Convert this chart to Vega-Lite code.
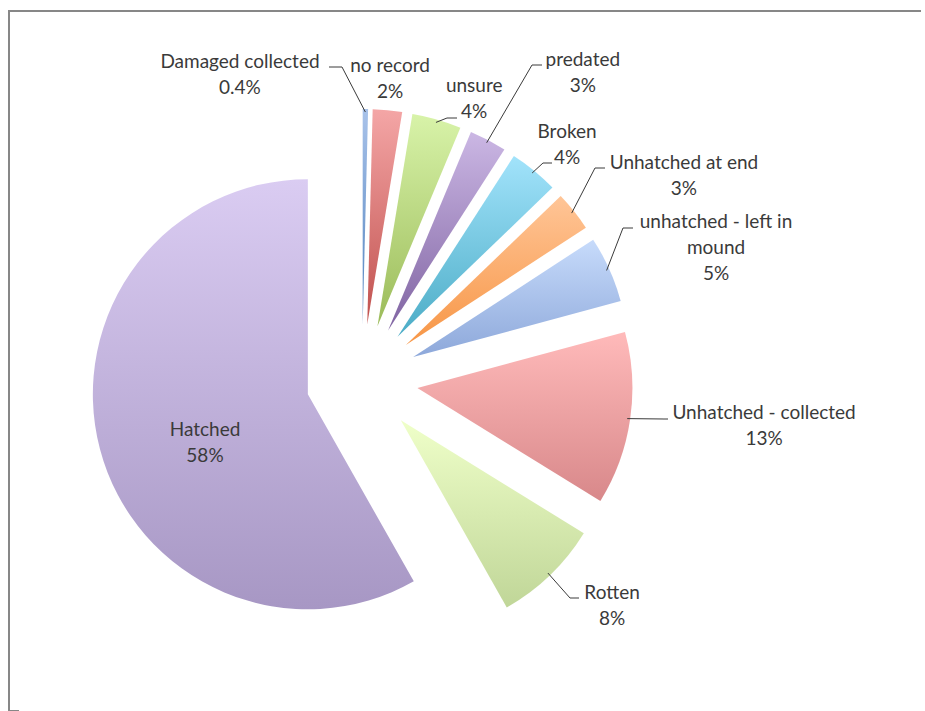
{
  "$schema": "https://vega.github.io/schema/vega-lite/v6.json",
  "width": 916,
  "height": 700,
  "autosize": {"type": "none"},
  "padding": {"left": 9, "top": 11, "right": 0, "bottom": 0},
  "background": "white",
  "view": {"stroke": "#878787", "strokeWidth": 2, "strokeDash": [912, 1610, 800, 10]},
  "data": {
    "values": [
      {"k": 0, "cat": "Damaged collected", "pct": 0.4, "label": "Damaged collected\n0.4%"},
      {"k": 1, "cat": "no record", "pct": 2.2, "label": "no record\n2%"},
      {"k": 2, "cat": "unsure", "pct": 3.7, "label": "unsure\n4%"},
      {"k": 3, "cat": "predated", "pct": 2.8, "label": "predated\n3%"},
      {"k": 4, "cat": "Broken", "pct": 3.7, "label": "Broken\n4%"},
      {"k": 5, "cat": "Unhatched at end", "pct": 3.0, "label": "Unhatched at end\n3%"},
      {"k": 6, "cat": "unhatched - left in mound", "pct": 5.0, "label": "unhatched - left in\nmound\n5%"},
      {"k": 7, "cat": "Unhatched - collected", "pct": 13.0, "label": "Unhatched - collected\n13%"},
      {"k": 8, "cat": "Rotten", "pct": 8.0, "label": "Rotten\n8%"},
      {"k": 9, "cat": "Hatched", "pct": 58.2, "label": "Hatched\n58%"}
    ]
  },
  "layer": [
    {
      "mark": {
        "type": "arc",
        "outerRadius": 215,
        "x": {"expr": "353 + 56*sin(scale('theta', (datum.pct_start + datum.pct_end)/2))"},
        "y": {"expr": "369 - 56*cos(scale('theta', (datum.pct_start + datum.pct_end)/2))"},
        "fill": {"expr": "{gradient: 'linear', x1: 0, y1: 0, x2: 0, y2: 1, stops: [{offset: 0, color: ['#A9C3EA', '#F4A6A6', '#D8F3A9', '#CBB7E4', '#A2E3FB', '#FFC597', '#C7DBFB', '#FFBABA', '#EFFFC9', '#DACCF2'][datum.k]}, {offset: 1, color: ['#4F81BD', '#C0504D', '#9BBB59', '#8064A2', '#4BACC6', '#F79646', '#8DA8DA', '#D8888A', '#C0D698', '#A797C4'][datum.k]}]}"}
      },
      "encoding": {
        "theta": {"field": "pct", "type": "quantitative", "stack": true},
        "order": {"field": "k", "type": "quantitative"},
        "detail": {"field": "cat", "type": "nominal"}
      }
    },
    {
      "transform": [
        {"stack": "pct", "groupby": [], "sort": [{"field": "k", "order": "ascending"}], "as": ["s0", "s1"]}
      ],
      "mark": {"type": "rule", "stroke": "#3a3a3a", "strokeWidth": 1, "strokeOpacity": {"expr": "datum.k == 1 || datum.k == 9 ? 0 : 1"}},
      "encoding": {
        "x": {"value": {"expr": "353 + 268*sin(2*PI*(datum.s0 + datum.s1)/200)"}},
        "y": {"value": {"expr": "369 - 268*cos(2*PI*(datum.s0 + datum.s1)/200)"}},
        "x2": {"value": {"expr": "[333, 0, 438, 523, 534, 586, 614, 654, 561, 0][datum.k]"}},
        "y2": {"value": {"expr": "[56, 0, 107, 54, 152, 157, 217, 408, 587, 0][datum.k]"}}
      }
    },
    {
      "mark": {"type": "rule", "stroke": "#3a3a3a", "strokeWidth": 1, "strokeOpacity": {"expr": "datum.k == 1 || datum.k == 9 ? 0 : 1"}},
      "encoding": {
        "x": {"value": {"expr": "[333, 0, 438, 523, 534, 586, 614, 654, 561, 0][datum.k]"}},
        "x2": {"value": {"expr": "[320, 0, 448, 533, 543, 596, 624, 659, 570, 0][datum.k]"}},
        "y": {"value": {"expr": "[56, 0, 107, 54, 152, 157, 217, 408, 587, 0][datum.k]"}},
        "y2": {"value": {"expr": "[56, 0, 107, 54, 152, 157, 217, 408, 587, 0][datum.k]"}}
      }
    },
    {
      "mark": {
        "type": "text",
        "x": 353,
        "y": 369,
        "radius": {"expr": "[340.6, 315.2, 314.6, 388.9, 321.8, 388.3, 387.7, 403.4, 328.4, 164.8][datum.k]"},
        "thetaOffset": {"expr": "[-0.379, -0.005, 0.085, 0.120, 0.003, 0.079, 0.001, -0.063, -0.099, -0.051][datum.k]"},
        "lineBreak": "\n",
        "lineHeight": 26,
        "font": "Lato",
        "fontSize": 19,
        "fill": "#3a3a3a",
        "align": "center",
        "baseline": "middle"
      },
      "encoding": {
        "theta": {"field": "pct", "type": "quantitative", "stack": true},
        "order": {"field": "k", "type": "quantitative"},
        "text": {"field": "label", "type": "nominal"},
        "detail": {"field": "cat", "type": "nominal"}
      }
    }
  ]
}
